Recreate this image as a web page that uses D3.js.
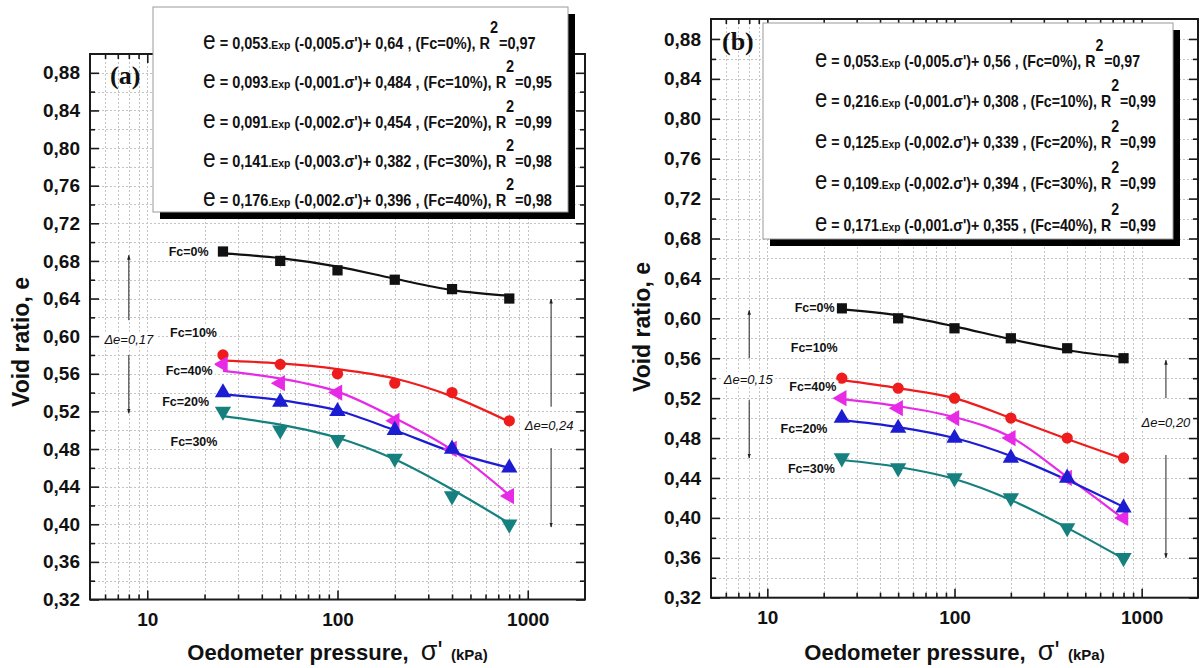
<!DOCTYPE html>
<html><head><meta charset="utf-8">
<script src="https://cdn.jsdelivr.net/npm/d3@7"></script>
<style>body{margin:0;background:#fff}svg{display:block}</style>
</head><body>
<svg id="chart" width="1204" height="668"></svg>
<script>
// ---------------- DATA ----------------
const pressure = [25, 50, 100, 200, 400, 800];
const seriesLabels = ["Fc=0%", "Fc=10%", "Fc=20%", "Fc=30%", "Fc=40%"];
const yTickValues = [0.32, 0.36, 0.40, 0.44, 0.48, 0.52, 0.56, 0.60, 0.64, 0.68, 0.72, 0.76, 0.80, 0.84, 0.88];
const xTickLabels = [10, 100, 1000];

// Panel (a): measured points
const aFc0  = [0.69, 0.68, 0.67, 0.66, 0.65, 0.64];
const aFc10 = [0.58, 0.57, 0.56, 0.55, 0.54, 0.51];
const aFc20 = [0.54, 0.53, 0.52, 0.50, 0.48, 0.46];
const aFc30 = [0.52, 0.50, 0.49, 0.47, 0.43, 0.40];
const aFc40 = [0.57, 0.55, 0.54, 0.51, 0.48, 0.43];
// Panel (a): fitted curves read at the same pressures
const aFit0  = [0.688, 0.683, 0.674, 0.661, 0.649, 0.643];
const aFit10 = [0.574, 0.571, 0.565, 0.555, 0.536, 0.509];
const aFit20 = [0.538, 0.532, 0.521, 0.500, 0.477, 0.460];
const aFit30 = [0.515, 0.506, 0.492, 0.469, 0.437, 0.401];
const aFit40 = [0.563, 0.555, 0.541, 0.513, 0.479, 0.431];

// Panel (b): measured points
const bFc0  = [0.61, 0.60, 0.59, 0.58, 0.57, 0.56];
const bFc10 = [0.54, 0.53, 0.52, 0.50, 0.48, 0.46];
const bFc20 = [0.50, 0.49, 0.48, 0.46, 0.44, 0.41];
const bFc30 = [0.46, 0.45, 0.44, 0.42, 0.39, 0.36];
const bFc40 = [0.52, 0.51, 0.50, 0.48, 0.44, 0.40];
// Panel (b): fitted curves
const bFit0  = [0.609, 0.603, 0.592, 0.579, 0.568, 0.561];
const bFit10 = [0.538, 0.530, 0.520, 0.500, 0.479, 0.459];
const bFit20 = [0.498, 0.491, 0.480, 0.462, 0.438, 0.411];
const bFit30 = [0.458, 0.451, 0.439, 0.418, 0.390, 0.359];
const bFit40 = [0.519, 0.512, 0.501, 0.481, 0.441, 0.399];

// Fitted equations
const eqFc = ["0%", "10%", "20%", "30%", "40%"];
const aEqCoef  = ["0,053", "0,093", "0,091", "0,141", "0,176"];
const aEqRate  = ["-0,005", "-0,001", "-0,002", "-0,003", "-0,002"];
const aEqConst = ["0,64", "0,484", "0,454", "0,382", "0,396"];
const aEqR2    = ["0,97", "0,95", "0,99", "0,98", "0,98"];
const bEqCoef  = ["0,053", "0,216", "0,125", "0,109", "0,171"];
const bEqRate  = ["-0,005", "-0,001", "-0,002", "-0,002", "-0,001"];
const bEqConst = ["0,56", "0,308", "0,339", "0,394", "0,355"];
const bEqR2    = ["0,97", "0,99", "0,99", "0,99", "0,99"];

const aDeltaTexts = ["Δe=0,17", "Δe=0,24"];
const bDeltaTexts = ["Δe=0,15", "Δe=0,20"];

// ---------------- DRAWING ----------------
const svg = d3.select("#chart");
const SANS = "'Liberation Sans', Arial, Helvetica, sans-serif";
const SERIF = "'Liberation Serif', 'Times New Roman', serif";
const NB = "\u00A0";

const defs = svg.append("defs");
defs.append("marker").attr("id", "arrowHead")
  .attr("viewBox", "0 0 10 10").attr("refX", 9).attr("refY", 5)
  .attr("markerWidth", 5).attr("markerHeight", 9).attr("orient", "auto-start-reverse")
  .attr("markerUnits", "userSpaceOnUse")
  .append("path").attr("d", "M0,1.5 L10,5 L0,8.5 Z").attr("fill", "#222");

const styles = [
  {color: "#111111", symbol: d3.symbolSquare, rot: 0, size: 105},
  {color: "#ee1c1c", symbol: d3.symbolCircle, rot: 0, size: 100},
  {color: "#1c1cd2", symbol: d3.symbolTriangle, rot: 0, size: 115},
  {color: "#15807e", symbol: d3.symbolTriangle, rot: 180, size: 115},
  {color: "#e62ae6", symbol: d3.symbolTriangle, rot: -90, size: 115}
];
const drawOrder = [0, 1, 4, 2, 3];

function fmtComma(v) { return d3.format(".2f")(v).replace(".", ","); }

function drawPanel(cfg) {
  const g = svg.append("g");
  const x = d3.scaleLog().domain([5, 2000]).range([cfg.left, cfg.right]);
  const y = d3.scaleLinear().domain([0.32, 0.90]).range([cfg.bottom, cfg.top]);

  const xMinor = [];
  [1, 10, 100, 1000].forEach(d => { for (let m = 1; m <= 9; m++) { const v = m * d; if (v > 5 && v < 2000) xMinor.push(v); } });
  const yMinor = d3.range(1, 29).map(i => +(0.32 + i * 0.02).toFixed(2));

  // grid
  const grid = g.append("g").attr("stroke", "#c4c4c4").attr("stroke-width", 1).attr("stroke-dasharray", "2,2");
  grid.selectAll("line.v").data(xMinor).join("line")
    .attr("x1", d => Math.round(x(d)) + 0.5).attr("x2", d => Math.round(x(d)) + 0.5)
    .attr("y1", cfg.top).attr("y2", cfg.bottom);
  grid.selectAll("line.h").data(yMinor).join("line")
    .attr("y1", d => Math.round(y(d)) + 0.5).attr("y2", d => Math.round(y(d)) + 0.5)
    .attr("x1", cfg.left).attr("x2", cfg.right);

  // axes
  const tickStyle = sel => { sel.select(".domain").remove(); sel.selectAll("line").attr("stroke", "#1a1a1a").attr("stroke-width", 1.6); };
  const xMinorOnly = xMinor.filter(v => !xTickLabels.includes(v));
  const yMinorOnly = yMinor.filter(v => !yTickValues.some(t => Math.abs(t - v) < 1e-6));

  const bottom = g.append("g").attr("transform", `translate(0,${cfg.bottom})`)
    .call(d3.axisBottom(x).tickValues(xTickLabels).tickSizeInner(-9).tickSizeOuter(0).tickPadding(13).tickFormat(d3.format("d")));
  bottom.call(tickStyle);
  bottom.selectAll("text").attr("font-family", SANS).attr("font-weight", "bold").attr("font-size", 19).attr("fill", "#111");
  g.append("g").attr("transform", `translate(0,${cfg.bottom})`)
    .call(d3.axisBottom(x).tickValues(xMinorOnly).tickSizeInner(-5).tickSizeOuter(0).tickFormat("")).call(tickStyle);
  g.append("g").attr("transform", `translate(0,${cfg.top})`)
    .call(d3.axisTop(x).tickValues(xTickLabels).tickSizeInner(-9).tickSizeOuter(0).tickFormat("")).call(tickStyle);
  g.append("g").attr("transform", `translate(0,${cfg.top})`)
    .call(d3.axisTop(x).tickValues(xMinorOnly).tickSizeInner(-5).tickSizeOuter(0).tickFormat("")).call(tickStyle);

  const left = g.append("g").attr("transform", `translate(${cfg.left},0)`)
    .call(d3.axisLeft(y).tickValues(yTickValues).tickSizeInner(-9).tickSizeOuter(0).tickPadding(10).tickFormat(fmtComma));
  left.call(tickStyle);
  left.selectAll("text").attr("font-family", SANS).attr("font-weight", "bold").attr("font-size", 19).attr("fill", "#111");
  g.append("g").attr("transform", `translate(${cfg.left},0)`)
    .call(d3.axisLeft(y).tickValues(yMinorOnly).tickSizeInner(-5).tickSizeOuter(0).tickFormat("")).call(tickStyle);
  g.append("g").attr("transform", `translate(${cfg.right},0)`)
    .call(d3.axisRight(y).tickValues(yTickValues).tickSizeInner(-9).tickSizeOuter(0).tickFormat("")).call(tickStyle);
  g.append("g").attr("transform", `translate(${cfg.right},0)`)
    .call(d3.axisRight(y).tickValues(yMinorOnly).tickSizeInner(-5).tickSizeOuter(0).tickFormat("")).call(tickStyle);

  // frame
  g.append("rect").attr("x", cfg.left).attr("y", cfg.top)
    .attr("width", cfg.right - cfg.left).attr("height", cfg.bottom - cfg.top)
    .attr("fill", "none").attr("stroke", "#1a1a1a").attr("stroke-width", 2);

  // curves & markers
  const line = d3.line().x((d, i) => x(pressure[i])).y(d => y(d)).curve(d3.curveMonotoneX);
  drawOrder.forEach(k => {
    const st = styles[k];
    g.append("path").datum(cfg.fits[k]).attr("d", line)
      .attr("fill", "none").attr("stroke", st.color).attr("stroke-width", 2.2);
  });
  drawOrder.forEach(k => {
    const st = styles[k];
    g.append("g").selectAll("path").data(cfg.points[k]).join("path")
      .attr("d", d3.symbol().type(st.symbol).size(st.size))
      .attr("transform", (d, i) => `translate(${x(pressure[i])},${y(d)}) rotate(${st.rot})`)
      .attr("fill", st.color);
  });

  // annotation labels
  const addLabel = (txt, px, py, size, weight, style) => {
    const t = g.append("text").attr("x", px).attr("y", py).attr("dy", "0.36em")
      .attr("text-anchor", "middle").attr("font-family", SANS)
      .attr("font-size", size).attr("font-weight", weight).attr("font-style", style || "normal")
      .attr("fill", "#111").text(txt);
    const bb = t.node().getBBox();
    g.insert("rect", () => t.node()).attr("x", bb.x - 2).attr("y", bb.y).attr("width", bb.width + 4).attr("height", bb.height).attr("fill", "#fff");
  };
  cfg.labelPos.forEach((p, k) => addLabel(seriesLabels[k], x(p[0]), y(p[1]), 12.5, "bold"));

  // delta arrows
  cfg.deltas.forEach((d, i) => {
    const ax = x(d.x);
    g.append("line").attr("x1", ax).attr("x2", ax).attr("y1", y(d.upEnd)).attr("y2", y(d.top))
      .attr("stroke", "#222").attr("stroke-width", 1).attr("marker-end", "url(#arrowHead)");
    g.append("line").attr("x1", ax).attr("x2", ax).attr("y1", y(d.downStart)).attr("y2", y(d.bottom))
      .attr("stroke", "#222").attr("stroke-width", 1).attr("marker-end", "url(#arrowHead)");
    addLabel(cfg.deltaTexts[i], ax + (d.dx || 0), y(d.label), 13, "normal", "italic");
  });

  // panel letter
  g.append("text").attr("x", cfg.letterX).attr("y", cfg.letterY)
    .attr("font-family", SERIF).attr("font-weight", "bold").attr("font-size", 26)
    .attr("fill", "#111").text(cfg.letter);

  // axis titles
  const xt = g.append("text").attr("x", (cfg.left + cfg.right) / 2).attr("y", 660)
    .attr("text-anchor", "middle").attr("font-family", SANS).attr("fill", "#111");
  xt.append("tspan").attr("font-weight", "bold").attr("font-size", 22).text("Oedometer pressure," + NB + NB);
  xt.append("tspan").attr("font-size", 27).text("σ'");
  xt.append("tspan").attr("font-weight", "bold").attr("font-size", 15).text(NB + NB + "(kPa)");

  g.append("text").attr("transform", `translate(${cfg.yTitleX},${cfg.yTitleY}) rotate(-90)`)
    .attr("text-anchor", "middle").attr("font-family", SANS).attr("font-weight", "bold")
    .attr("font-size", 23).attr("fill", "#111").text("Void ratio, e");

  // legend box with equations
  const lb = cfg.legend;
  g.append("rect").attr("x", lb.x + 7).attr("y", lb.y + 7).attr("width", lb.w).attr("height", lb.h).attr("fill", "#000");
  g.append("rect").attr("x", lb.x).attr("y", lb.y).attr("width", lb.w).attr("height", lb.h)
    .attr("fill", "#fff").attr("stroke", "#9a9a9a").attr("stroke-width", 1);
  const rows = [];
  cfg.eq.coef.forEach((c, i) => {
    const t = g.append("text").attr("x", lb.textX).attr("y", lb.rowY[i] + 6)
      .attr("font-family", SANS).attr("fill", "#111");
    t.append("tspan").attr("font-size", 25).text("e");
    t.append("tspan").attr("font-size", 16).attr("font-weight", "bold").text(NB + "=" + NB + c);
    t.append("tspan").attr("font-size", 11.5).attr("font-weight", "bold").text(".Exp");
    t.append("tspan").attr("font-size", 16).attr("font-weight", "bold")
      .text(NB + `(${cfg.eq.rate[i]}.σ')+` + NB + cfg.eq.cons[i] + NB + "," + NB + `(Fc=${eqFc[i]}),` + NB + "R");
    t.append("tspan").attr("font-size", 16).attr("font-weight", "bold").attr("dy", -16).attr("dx", 0).text("2");
    t.append("tspan").attr("font-size", 16).attr("font-weight", "bold").attr("dy", 16).attr("dx", 1).text("=" + cfg.eq.r2[i]);
    rows.push(t);
  });
  const maxW = d3.max(rows, t => t.node().getBBox().width);
  const s = lb.maxWidth / maxW;
  rows.forEach(t => t.attr("transform", `translate(${lb.textX},0) scale(${s},1) translate(${-lb.textX},0)`));
}

drawPanel({
  left: 90, right: 585, top: 54, bottom: 599.5,
  points: [aFc0, aFc10, aFc20, aFc30, aFc40],
  fits: [aFit0, aFit10, aFit20, aFit30, aFit40],
  labelPos: [[16.5, 0.6895], [17.5, 0.6044], [15.9, 0.530], [17.6, 0.4885], [16.6, 0.564]],
  deltas: [
    {x: 8, top: 0.686, upEnd: 0.617, label: 0.597, downStart: 0.580, bottom: 0.518, dx: 0},
    {x: 1327, top: 0.6395, upEnd: 0.525, label: 0.5055, downStart: 0.481, bottom: 0.397, dx: -2}
  ],
  deltaTexts: aDeltaTexts,
  letter: "(a)", letterX: 110, letterY: 84,
  yTitleX: 29, yTitleY: 342,
  legend: {x: 153, y: 7, w: 415, h: 205, textX: 203, rowY: [43, 82, 122, 161, 200], maxWidth: 349},
  eq: {coef: aEqCoef, rate: aEqRate, cons: aEqConst, r2: aEqR2}
});

drawPanel({
  left: 711, right: 1198, top: 19, bottom: 597.7,
  points: [bFc0, bFc10, bFc20, bFc30, bFc40],
  fits: [bFit0, bFit10, bFit20, bFit30, bFit40],
  labelPos: [[17.9, 0.6113], [17.8, 0.5703], [15.7, 0.490], [17.2, 0.449], [17.5, 0.5312]],
  deltas: [
    {x: 8, top: 0.608, upEnd: 0.560, label: 0.539, downStart: 0.518, bottom: 0.46, dx: -1},
    {x: 1348, top: 0.558, upEnd: 0.52, label: 0.496, downStart: 0.463, bottom: 0.36, dx: 0}
  ],
  deltaTexts: bDeltaTexts,
  letter: "(b)", letterX: 722, letterY: 50,
  yTitleX: 650, yTitleY: 327,
  legend: {x: 763, y: 23, w: 410, h: 216, textX: 815, rowY: [61, 101, 142, 183, 225], maxWidth: 341},
  eq: {coef: bEqCoef, rate: bEqRate, cons: bEqConst, r2: bEqR2}
});
</script>
</body></html>
